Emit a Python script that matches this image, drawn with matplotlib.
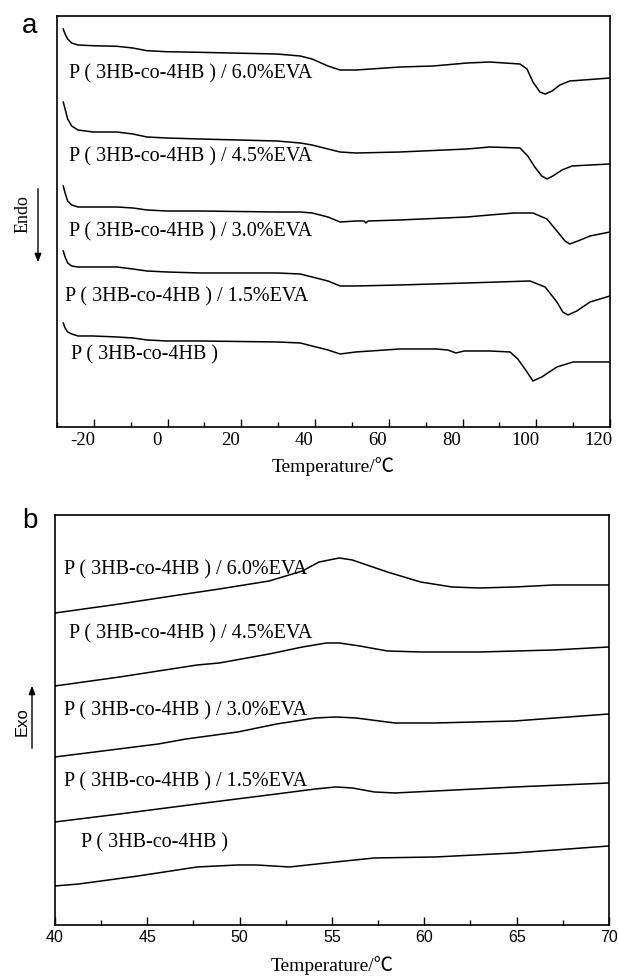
import numpy as np
import matplotlib
matplotlib.use("Agg")
import matplotlib.pyplot as plt
import matplotlib.transforms as mtransforms
from matplotlib.patches import FancyArrowPatch
from matplotlib.ticker import MultipleLocator

plt.rcParams["axes.unicode_minus"] = False

SERIF = ["Liberation Serif", "Noto Sans CJK SC", "DejaVu Sans"]
SANS = ["Liberation Sans", "DejaVu Sans"]

# ---- (a) heating scans: temperature (C) vs heat flow (arb. units)
labels = ["P ( 3HB-co-4HB ) / 6.0%EVA", "P ( 3HB-co-4HB ) / 4.5%EVA",
          "P ( 3HB-co-4HB ) / 3.0%EVA", "P ( 3HB-co-4HB ) / 1.5%EVA",
          "P ( 3HB-co-4HB )"]

a60_T = [-28.3, -27.8, -27.1, -26.0, -24.3, -20.2, -13.7, -9.4, -5.6, -0.2, 8.8, 29.7, 36.0, 39.2, 43.5,
         46.8, 51.1, 63.0, 72.0, 81.2, 87.4, 95.6, 97.5, 99.1, 101.0, 102.4, 104.3, 106.4, 109.1, 112.7, 120]
a60_H = [398, 393, 388, 384, 382, 381.3, 380.7, 379, 376.3, 375.3, 374.7, 373, 371, 368, 361,
         357, 357, 360, 361, 364, 365, 363, 358, 345, 335, 333, 336, 342, 346, 347, 349]

a45_T = [-28.3, -27.8, -27.1, -26.0, -24.3, -20.2, -13.7, -9.4, -5.6, -0.2, 8.8, 29.7, 36.0, 39.2, 43.5,
         46.8, 51.1, 63.0, 81.2, 87.4, 95.6, 97.7, 99.6, 101.5, 102.9, 104.5, 107.0, 109.7, 114.6, 120]
a45_H = [325, 318, 308, 301, 297, 295, 295, 293, 290, 289, 288, 286, 284, 282, 278,
         275, 274, 275, 278, 280, 279, 271, 260, 251, 248, 251, 257, 261, 262, 263]

a30_T = [-28.3, -27.8, -27.1, -26.0, -24.3, -20.2, -13.7, -9.4, -5.6, -0.2, 8.8, 29.7, 36.0, 39.2, 43.5,
         46.8, 51.1, 53.3, 53.8, 54.4, 63.0, 81.2, 87.4, 94.0, 99.1, 102.9, 105.6, 107.8, 109.1, 111.3, 114.6, 120]
a30_H = [241, 234, 226, 222, 220, 220, 220, 219, 217, 216, 216, 215, 215, 214, 210,
         205, 206, 206, 204, 206, 207, 210, 212, 214, 214, 208, 196, 186, 183, 186, 191, 195]

a15_T = [-28.3, -27.8, -27.1, -26.0, -24.3, -20.2, -13.7, -9.4, -5.6, -0.2, 8.8, 29.7, 36.0, 39.2, 43.5,
         46.8, 51.1, 63.0, 81.2, 98.3, 102.4, 105.6, 107.2, 108.6, 111.0, 114.6, 120]
a15_H = [176, 170, 164, 161, 160, 160, 160, 158, 156, 155, 154, 154, 153, 150, 146,
         141, 141, 142, 144, 146, 140, 125, 115, 112, 116, 125, 131]

a00_T = [-28.3, -27.8, -27.1, -26.0, -24.3, -20.2, -13.7, -9.4, -5.6, -0.2, 8.8, 29.7, 36.0, 39.2, 43.5,
         46.8, 51.1, 63.0, 72.8, 76.0, 78.2, 80.5, 83.1, 87.4, 92.9, 95.0, 97.5, 99.1, 101.5, 105.6, 110.0, 120]
a00_H = [104, 99, 95, 93, 91, 91, 90, 89, 87, 86, 86, 85, 84, 81, 77,
         73, 75, 78, 78, 77, 74, 76, 76, 76, 75, 68, 55, 46, 50, 60, 65, 65]

# ---- (b) cooling scans 40-70 C
b60_T = [40, 43.5, 46.7, 48.9, 51.6, 53.4, 54.3, 55.4, 56.1, 58.0, 59.8, 61.5, 63.0, 64.9, 67, 70]
b60_H = [312, 321, 330, 336, 344, 354, 363, 367, 365, 353, 343, 338, 337, 338, 340, 340]

b45_T = [40, 43.5, 47.7, 48.9, 51.6, 53.4, 54.7, 55.4, 56.5, 58.0, 59.8, 63.0, 67.0, 70]
b45_H = [239, 248, 260, 262, 271, 278, 282, 282, 279, 274, 273, 273, 275, 278]

b30_T = [40, 45.6, 47.1, 49.9, 52.0, 54.1, 55.2, 56.3, 58.4, 60.6, 64.9, 70]
b30_H = [168, 181, 186, 193, 201, 207, 208, 207, 202, 202, 204, 211]

b15_T = [40, 43.5, 47.7, 52.0, 54.1, 55.2, 56.1, 57.3, 58.4, 60.6, 64.9, 70]
b15_H = [103, 111, 121, 131, 136, 138, 137, 133, 132, 134, 138, 142]

b00_T = [40, 41.3, 44.5, 47.7, 49.9, 50.9, 52.7, 55.2, 57.3, 60.6, 64.9, 70]
b00_H = [39, 41, 49, 58, 60, 60, 58, 63, 67, 68, 72, 79]

fig = plt.figure(figsize=(6.18, 9.78), dpi=100)
ax1 = fig.add_axes([0.0922, 0.5624, 0.8948, 0.4202])
ax2 = fig.add_axes([0.089, 0.0532, 0.8964, 0.4192])

for T, H in [(a60_T, a60_H), (a45_T, a45_H), (a30_T, a30_H), (a15_T, a15_H), (a00_T, a00_H)]:
    ax1.plot(T, H, color="black", lw=1.1)
for T, H in [(b60_T, b60_H), (b45_T, b45_H), (b30_T, b30_H), (b15_T, b15_H), (b00_T, b00_H)]:
    ax2.plot(T, H, color="black", lw=1.1)

ax1.set_xlim(-30, 120)
ax1.set_ylim(0, 411)
ax2.set_xlim(40, 70)
ax2.set_ylim(0, 410)

ax1.xaxis.set_major_locator(MultipleLocator(20))
ax1.xaxis.set_minor_locator(MultipleLocator(10))
ax2.xaxis.set_major_locator(MultipleLocator(5))
ax2.xaxis.set_minor_locator(MultipleLocator(2.5))

for ax in (ax1, ax2):
    ax.set_yticks([])
    ax.tick_params(axis="x", which="major", direction="in", length=6, width=1.0, pad=3)
    ax.tick_params(axis="x", which="minor", direction="in", length=3.5, width=1.0)
    for s in ax.spines.values():
        s.set_linewidth(1.2)

# panel (a) tick labels sit a little left of their ticks in the original
shift = mtransforms.ScaledTranslation(-11 / 100, 0, fig.dpi_scale_trans)
for lab in ax1.get_xticklabels():
    lab.set_fontfamily(SERIF)
    lab.set_fontsize(13.5)
    lab.set_transform(lab.get_transform() + shift)
for lab in ax2.get_xticklabels():
    lab.set_fontfamily(SANS)
    lab.set_fontsize(11.5)

ax1.set_xlabel("Temperature/℃", family=SERIF, fontsize=14, labelpad=6)
ax2.set_xlabel("Temperature/℃", family=SERIF, fontsize=14, labelpad=8)

# curve labels
a_pos = [(-26.7, 354), (-26.7, 271), (-26.7, 196), (-27.8, 131), (-26.2, 73)]
for (x, y), s in zip(a_pos, labels):
    ax1.text(x, y, s, family=SERIF, fontsize=14.5, va="center", ha="left")
b_pos = [(40.5, 356), (40.75, 292), (40.5, 215), (40.5, 144), (41.4, 83)]
for (x, y), s in zip(b_pos, labels):
    ax2.text(x, y, s, family=SERIF, fontsize=14.5, va="center", ha="left")

# panel letters and heat-flow direction
fig.text(30 / 618, 1 - 26 / 978, "a", family=SANS, fontsize=20, ha="center", va="center")
fig.text(30 / 618, 1 - 521 / 978, "b", family=SANS, fontsize=20, ha="center", va="center")

fig.text(23 / 618, 1 - 214 / 978, "Endo", family=SERIF, fontsize=13, rotation=90,
         ha="center", va="center")
fig.add_artist(FancyArrowPatch(
    (38 / 618, 1 - 187 / 978), (38 / 618, 1 - 266 / 978), transform=fig.transFigure,
    arrowstyle="-|>,head_length=5,head_width=2", color="black", lw=1.0))

fig.text(22 / 618, 1 - 722 / 978, "Exo", family=SANS, fontsize=12, rotation=90,
         ha="center", va="center")
fig.add_artist(FancyArrowPatch(
    (32 / 618, 1 - 752 / 978), (32 / 618, 1 - 684 / 978), transform=fig.transFigure,
    arrowstyle="-|>,head_length=5,head_width=2", color="black", lw=1.0))

fig.savefig("out.png", dpi=100)
